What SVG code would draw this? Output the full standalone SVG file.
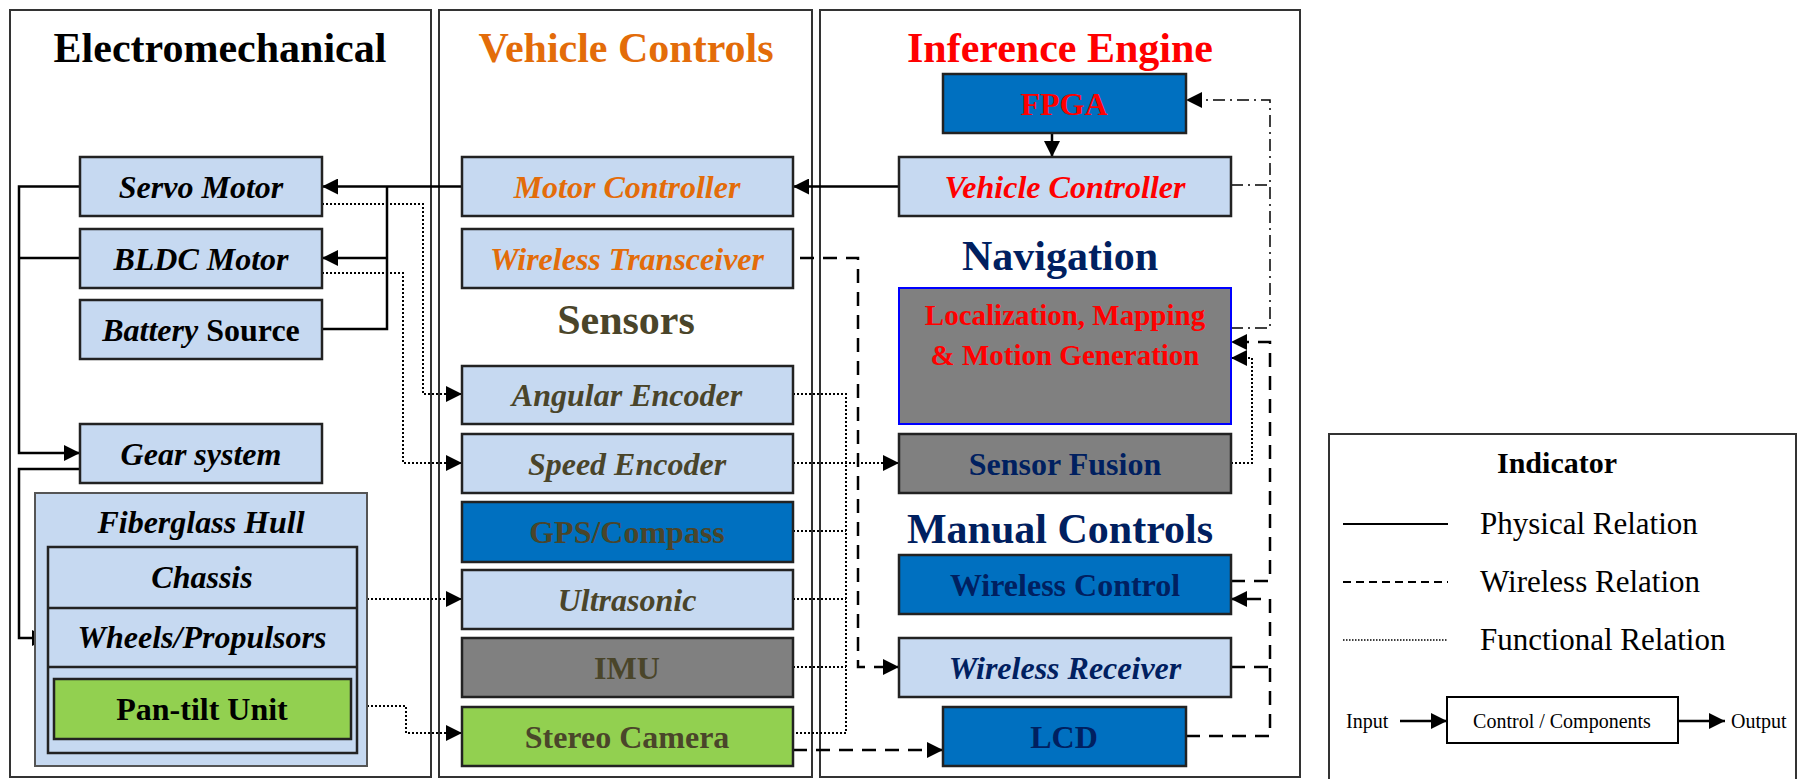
<svg xmlns="http://www.w3.org/2000/svg" width="1805" height="779" viewBox="0 0 1805 779">
<style>
text{font-family:"Liberation Serif","Times New Roman",serif;font-weight:bold;text-anchor:middle}
.title{font-size:42px}
.node{font-size:32px}
.it{font-style:italic}
.panel{fill:#fff;stroke:#333;stroke-width:2}
.box{stroke:#222;stroke-width:2.5}
.lb{fill:#C6D9F1}
.bl{fill:#0070C0}
.gr{fill:#808080}
.gn{fill:#92D050}
.solid{fill:none;stroke:#000;stroke-width:2.5}
.dash{fill:none;stroke:#000;stroke-width:2.5;stroke-dasharray:14 9}
.dot{fill:none;stroke:#000;stroke-width:2;stroke-dasharray:2 2}
.dd{fill:none;stroke:#000;stroke-width:1.5;stroke-dasharray:12 5 2 5}
.legend{font-weight:normal;text-anchor:start}
.norm{font-weight:normal}
</style>
<defs>
<marker id="ah" markerUnits="userSpaceOnUse" markerWidth="16" markerHeight="16" viewBox="0 0 16 16" refX="16" refY="8" orient="auto">
<path d="M0,0 L16,8 L0,16 Z" fill="#000"/>
</marker>
</defs>
<rect width="1805" height="779" fill="#fff"/>
<g id="panels">
<rect class="panel" x="10" y="10" width="421" height="767"/>
<rect class="panel" x="439" y="10" width="373" height="767"/>
<rect class="panel" x="820" y="10" width="480" height="767"/>
<text class="title" x="220" y="62" fill="#000">Electromechanical</text>
<text class="title" x="626" y="62" fill="#E36C09">Vehicle Controls</text>
<text class="title" x="1060" y="62" fill="#FF0000">Inference Engine</text>
<text class="title" x="626" y="334" fill="#4A452A">Sensors</text>
<text class="title" x="1060" y="270" fill="#002060">Navigation</text>
<text class="title" x="1060" y="543" fill="#002060">Manual Controls</text>
</g>
<g id="connectors">
<!-- physical -->
<path class="solid" d="M899,186.5 H793" marker-end="url(#ah)"/>
<path class="solid" d="M462,186.5 H322" marker-end="url(#ah)"/>
<path class="solid" d="M322,329 H387 V186.5"/>
<path class="solid" d="M387,258 H322" marker-end="url(#ah)"/>
<path class="solid" d="M80,186.5 H19 V453 H80" marker-end="url(#ah)"/>
<path class="solid" d="M80,258 H19"/>
<path class="solid" d="M80,469 H19 V638 H48" marker-end="url(#ah)"/>
<path class="solid" d="M1052,133 V157" marker-end="url(#ah)"/>
<!-- functional -->
<path class="dot" d="M322,204 H423 V394 H462" marker-end="url(#ah)"/>
<path class="dot" d="M322,273 H403 V463 H462" marker-end="url(#ah)"/>
<path class="dot" d="M367,599 H462" marker-end="url(#ah)"/>
<path class="dot" d="M367,706 H406 V733 H462" marker-end="url(#ah)"/>
<path class="dot" d="M793,394 H846 V733 H793"/>
<path class="dot" d="M793,531 H846 M793,599 H846 M793,667 H846"/>
<path class="dot" d="M793,463 H899" marker-end="url(#ah)"/>
<path class="dot" d="M1231,463 H1252 V358 H1231" marker-end="url(#ah)"/>
<!-- wireless -->
<path class="dash" d="M800,258 H858 V667 H899" marker-end="url(#ah)"/>
<path class="dash" d="M793,750 H943" marker-end="url(#ah)"/>
<path class="dash" d="M1231,581 H1270 V342 H1231" marker-end="url(#ah)"/>
<path class="dash" d="M1186,736 H1270 V599 H1231" marker-end="url(#ah)"/>
<path class="dash" d="M1231,667 H1270"/>
<!-- dash-dot -->
<path class="dd" d="M1231,328 H1270 V100 H1186" marker-end="url(#ah)"/>
<path class="dd" d="M1231,185 H1270"/>
</g>
<g id="servo-motor"><rect class="box lb" x="80" y="157" width="242" height="59"/><text class="node it" x="201" y="198">Servo Motor</text></g>
<g id="bldc-motor"><rect class="box lb" x="80" y="229" width="242" height="59"/><text class="node it" x="201" y="270">BLDC Motor</text></g>
<g id="battery-source"><rect class="box lb" x="80" y="300" width="242" height="59"/><text class="node" x="201" y="341"><tspan font-style="italic">Battery</tspan> Source</text></g>
<g id="gear-system"><rect class="box lb" x="80" y="424" width="242" height="59"/><text class="node it" x="201" y="465">Gear system</text></g>
<g id="fiberglass-hull">
<rect class="lb" x="35" y="493" width="332" height="273" stroke="#555" stroke-width="2"/>
<text class="node it" x="201" y="533">Fiberglass Hull</text>
<rect class="box lb" x="48" y="547" width="309" height="206"/>
<line x1="48" y1="608" x2="357" y2="608" stroke="#222" stroke-width="2.5"/>
<line x1="48" y1="667" x2="357" y2="667" stroke="#222" stroke-width="2.5"/>
</g>
<g id="chassis"><text class="node it" x="202" y="588">Chassis</text></g>
<g id="wheels"><text class="node it" x="202" y="648">Wheels/Propulsors</text></g>
<g id="pan-tilt"><rect class="box gn" x="54" y="679" width="297" height="60"/><text class="node" x="202" y="720">Pan-tilt Unit</text></g>

<g id="motor-controller"><rect class="box lb" x="462" y="157" width="331" height="59"/><text class="node it" x="627" y="198" fill="#E36C09">Motor Controller</text></g>
<g id="wireless-transceiver"><rect class="box lb" x="462" y="229" width="331" height="59"/><text class="node it" x="627" y="270" fill="#E36C09">Wireless Transceiver</text></g>
<g id="angular-encoder"><rect class="box lb" x="462" y="366" width="331" height="58"/><text class="node it" x="627" y="406" fill="#4A452A">Angular Encoder</text></g>
<g id="speed-encoder"><rect class="box lb" x="462" y="434" width="331" height="59"/><text class="node it" x="627" y="475" fill="#4A452A">Speed Encoder</text></g>
<g id="gps-compass"><rect class="box bl" x="462" y="502" width="331" height="60"/><text class="node" x="627" y="543" fill="#4A452A">GPS/Compass</text></g>
<g id="ultrasonic"><rect class="box lb" x="462" y="570" width="331" height="59"/><text class="node it" x="627" y="611" fill="#4A452A">Ultrasonic</text></g>
<g id="imu"><rect class="box gr" x="462" y="638" width="331" height="59"/><text class="node" x="627" y="679" fill="#4A452A">IMU</text></g>
<g id="stereo-camera"><rect class="box gn" x="462" y="707" width="331" height="59"/><text class="node" x="627" y="748" fill="#4A452A">Stereo Camera</text></g>

<g id="fpga"><rect class="box bl" x="943" y="74" width="243" height="59"/><text class="node" x="1064" y="115" fill="#FF0000">FPGA</text></g>
<g id="vehicle-controller"><rect class="box lb" x="899" y="157" width="332" height="59"/><text class="node it" x="1065" y="198" fill="#FF0000">Vehicle Controller</text></g>
<g id="localization"><rect x="899" y="288" width="332" height="136" fill="#808080" stroke="#0000FF" stroke-width="2"/><text class="node" x="1065" y="325" fill="#FF0000" style="font-size:29px">Localization, Mapping</text><text class="node" x="1065" y="365" fill="#FF0000" style="font-size:29px">&amp; Motion Generation</text></g>
<g id="sensor-fusion"><rect class="box gr" x="899" y="434" width="332" height="59"/><text class="node" x="1065" y="475" fill="#002060">Sensor Fusion</text></g>
<g id="wireless-control"><rect class="box bl" x="899" y="555" width="332" height="59"/><text class="node" x="1065" y="596" fill="#002060">Wireless Control</text></g>
<g id="wireless-receiver"><rect class="box lb" x="899" y="638" width="332" height="59"/><text class="node it" x="1065" y="679" fill="#002060">Wireless Receiver</text></g>
<g id="lcd"><rect class="box bl" x="943" y="707" width="243" height="59"/><text class="node" x="1064" y="748" fill="#002060">LCD</text></g>

<g id="indicator">
<rect x="1329" y="434" width="467" height="380" fill="#fff" stroke="#333" stroke-width="2"/>
<text x="1557" y="473" font-size="30">Indicator</text>
<line x1="1343" y1="524" x2="1448" y2="524" stroke="#000" stroke-width="2"/>
<line x1="1343" y1="582" x2="1448" y2="582" stroke="#000" stroke-width="2" stroke-dasharray="8 5"/>
<line x1="1343" y1="640" x2="1448" y2="640" stroke="#000" stroke-width="1.5" stroke-dasharray="1.5 1.5"/>
<text class="legend" x="1480" y="534" font-size="31">Physical Relation</text>
<text class="legend" x="1480" y="592" font-size="31">Wireless Relation</text>
<text class="legend" x="1480" y="650" font-size="31">Functional Relation</text>
<text class="legend" x="1346" y="728" font-size="20">Input</text>
<path d="M1400,721 H1447" stroke="#000" stroke-width="2.5" marker-end="url(#ah)"/>
<rect x="1447" y="697" width="231" height="46" fill="#fff" stroke="#000" stroke-width="2"/>
<text class="norm" x="1562" y="728" font-size="20">Control / Components</text>
<path d="M1678,721 H1725" stroke="#000" stroke-width="2.5" marker-end="url(#ah)"/>
<text class="legend" x="1731" y="728" font-size="20">Output</text>
</g>
</svg>
